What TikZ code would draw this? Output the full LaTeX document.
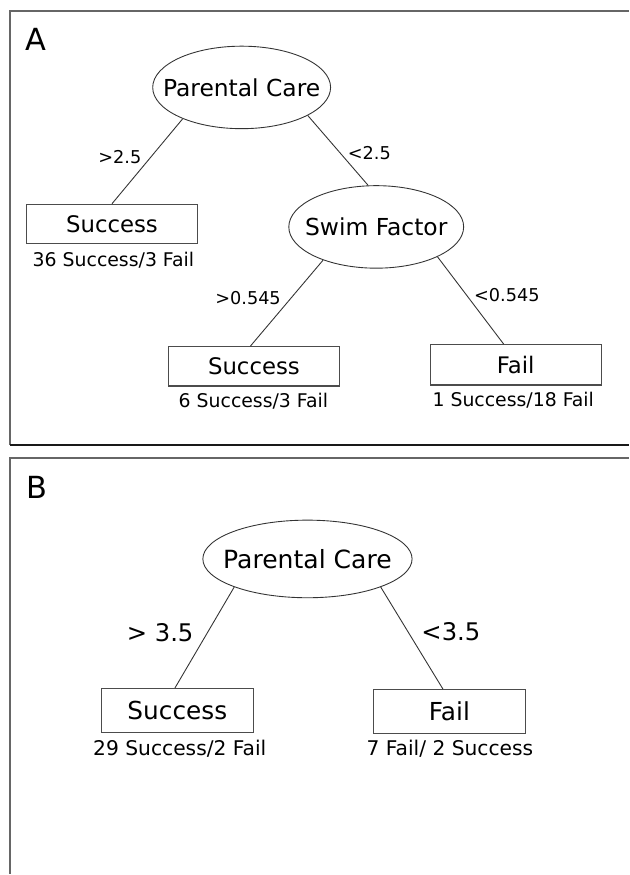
\documentclass[tikz,border=0pt]{standalone}
\usepackage{fontspec}
\setmainfont{DejaVu Sans}
\usetikzlibrary{shapes.geometric}

\tikzset{
    split/.style={draw=black!80, line width=0.9pt, ellipse, inner xsep=-16pt, inner ysep=0pt,
        minimum width=178pt, minimum height=84pt, font=\fontsize{23.8}{28}\selectfont},
    leaf/.style={draw=black!70, line width=1.2pt, rectangle, inner sep=0pt,
        minimum width=174pt, minimum height=40pt, font=\fontsize{23.2}{28}\selectfont},
    cond/.style={inner sep=0pt, anchor=base, font=\fontsize{18}{22}\selectfont},
    tally/.style={inner sep=0pt, anchor=base, font=\fontsize{19.2}{23}\selectfont},
    panel/.style={inner sep=0pt, anchor=base west, font=\fontsize{31}{36}\selectfont},
    branch/.style={draw=black!80, line width=0.9pt},
    frame/.style={draw=black!60, line width=1.5pt},
}

\begin{document}
\begin{tikzpicture}[x=1pt, y=-1pt]
    \fill[white] (0,0) rectangle (626,875);

    % Frames
    \draw[frame] (640,11) -- (10,11) -- (10,453);
    \draw[line width=2pt, black!90] (10,453) -- (640,453);
    \draw[frame] (640,466) -- (10,466) -- (10,890);

    % Tree A
    \node[panel] (labA) at (26,51) {A};
    \node[split] (careA) at (246,89) {Parental Care};
    \node[split] (swimA) at (383,231) {Swim Factor};
    \node[leaf] (successA1) at (114,228) {Success};
    \node[leaf] (successA2) at (258.5,373) {Success};
    \node[leaf, minimum height=41pt] (failA) at (525,371.5) {Fail};
    \node[tally] (tallyA1) at (115.5,271.5) {36 Success/3 Fail};
    \node[tally] (tallyA2) at (258,414.5) {6 Success/3 Fail};
    \node[tally] (tallyA3) at (522.5,413.5) {1 Success/18 Fail};
    \draw[branch] (careA.208) -- (successA1.north);
    \draw[branch] (careA.337) -- (swimA.101);
    \draw[branch] (swimA.212) -- (successA2.100);
    \draw[branch] (swimA.334) -- (failA.120);
    \node[cond] (gtA1) at (122,166) {>2.5};
    \node[cond] (ltA1) at (376,162) {<2.5};
    \node[cond] (gtA2) at (252.5,310) {>0.545};
    \node[cond] (ltA2) at (516,307) {<0.545};

    % Tree B
    \node[panel] (labB) at (27,507) {B};
    \node[split, minimum width=213pt, minimum height=79pt, font=\fontsize{25.5}{30}\selectfont] (careB) at (313,569) {Parental Care};
    \node[leaf, minimum width=155pt, minimum height=45pt, font=\fontsize{25.2}{30}\selectfont] (successB) at (180.5,723.5) {Success};
    \node[leaf, minimum width=155pt, minimum height=45pt, font=\fontsize{25.2}{30}\selectfont] (failB) at (457.5,724.5) {Fail};
    \node[tally, font=\fontsize{20.6}{25}\selectfont] (tallyB1) at (183,769) {29 Success/2 Fail};
    \node[tally, font=\fontsize{20.6}{25}\selectfont] (tallyB2) at (458,769) {7 Fail/ 2 Success};
    \draw[branch] (careB.201) -- (successB.96);
    \draw[branch] (careB.339) -- (failB.106);
    \node[cond, font=\fontsize{24.7}{29}\selectfont] (gtB) at (163,653) {> 3.5};
    \node[cond, font=\fontsize{24.7}{29}\selectfont] (ltB) at (459,652) {<3.5};
\end{tikzpicture}
\end{document}
